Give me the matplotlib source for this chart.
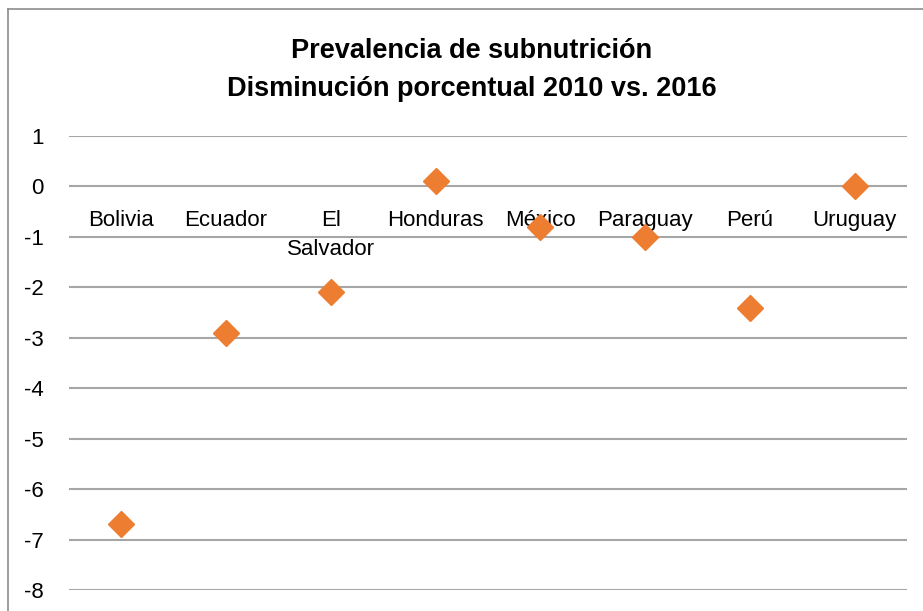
import matplotlib
matplotlib.use("Agg")
import matplotlib.pyplot as plt
from matplotlib.lines import Line2D

paises = ["Bolivia", "Ecuador", "El\nSalvador", "Honduras", "México",
          "Paraguay", "Perú", "Uruguay"]
disminucion = [-6.7, -2.9, -2.1, 0.1, -0.8, -1.0, -2.4, 0.0]
y_ticks = [1, 0, -1, -2, -3, -4, -5, -6, -7, -8]

plt.rcParams["font.family"] = ["Liberation Sans", "DejaVu Sans"]

W, H = 923, 611
fig = plt.figure(figsize=(W / 100, H / 100), dpi=100)
ax = fig.add_axes([69 / W, 1 - 590 / H, (907 - 69) / W, (590 - 136) / H])

x = list(range(len(paises)))
ax.plot(x, disminucion, linestyle="none", marker="D", markersize=13.2,
        color="#ED7D31", zorder=3)

ax.set_xlim(-0.5, len(paises) - 0.5)
ax.set_ylim(-8, 1)
ax.set_yticks(y_ticks)
ax.set_yticklabels([str(v) for v in y_ticks], fontsize=16)
ax.tick_params(axis="y", length=0, pad=18)
ax.set_xticks([])
ax.grid(axis="y", color="#A6A6A6", linewidth=1.5)
ax.set_axisbelow(True)
for s in ax.spines.values():
    s.set_visible(False)

# etiquetas de categoria junto al eje en 0
for xi, nombre in zip(x, paises):
    ax.text(xi, -0.46, nombre, ha="center", va="top", fontsize=16,
            linespacing=1.55, zorder=2)

fig.text(472 / W, 1 - 96 / H, "Prevalencia de subnutrición\nDisminución porcentual 2010 vs. 2016",
         ha="center", va="baseline", fontsize=19.5, fontweight="bold",
         linespacing=1.62)

# borde del area del grafico
fig.add_artist(Line2D([8 / W, 1], [1 - 9 / H, 1 - 9 / H], color="#8C8C8C", linewidth=1.2))
fig.add_artist(Line2D([8 / W, 8 / W], [0, 1 - 9 / H], color="#8C8C8C", linewidth=1.2))

fig.savefig("out.png", dpi=100)
